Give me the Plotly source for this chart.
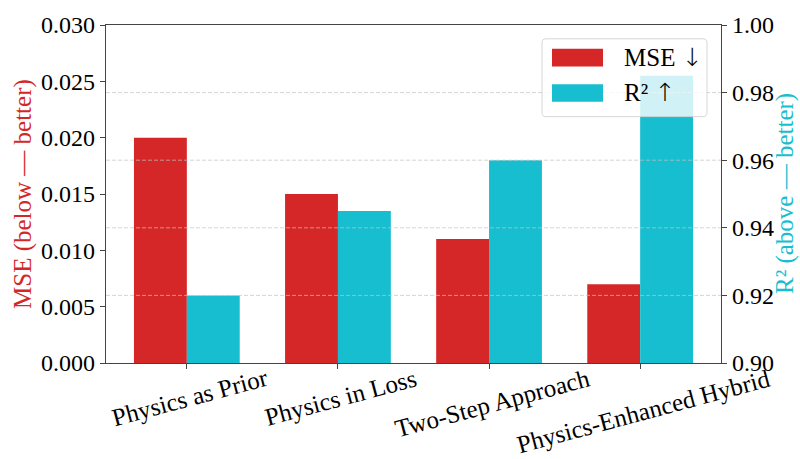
import plotly.graph_objects as go

# Benchmark of physics-informed modelling strategies
methods = ["Physics as Prior", "Physics in Loss", "Two-Step Approach", "Physics-Enhanced Hybrid"]
mse = [0.020, 0.015, 0.011, 0.007]
r2 = [0.920, 0.945, 0.960, 0.985]
series_names = ["MSE", "R²"]
series_arrows = ["↓", "↑"]
r2_grid = [0.92, 0.94, 0.96, 0.98]

RED = "#d62728"
CYAN = "#17becf"
SPINE = "#444444"
FONT = "Liberation Serif"

W, H = 800, 459
L, R, T, B = 106, 79, 20, 96
PW, PH = W - L - R, H - T - B


def px_x(px):
    return (px - L) / PW


def px_y(py):
    return (H - B - py) / PH


idx = list(range(len(methods)))
bar_w = 0.35

fig = go.Figure()
fig.add_trace(go.Bar(x=idx, y=mse, width=bar_w, offset=-bar_w, marker=dict(color=RED, line=dict(width=0)),
                     name=series_names[0], yaxis="y"))
fig.add_trace(go.Bar(x=idx, y=r2, width=bar_w, offset=0, marker=dict(color=CYAN, line=dict(width=0)),
                     name=series_names[1], yaxis="y2"))

axis_common = dict(showline=True, linecolor=SPINE, linewidth=1.2, ticks="outside", ticklen=5,
                   tickcolor=SPINE, tickwidth=1.2, showgrid=False, zeroline=False)

fig.update_layout(
    width=W, height=H,
    margin=dict(l=L, r=R, t=T, b=B),
    plot_bgcolor="white", paper_bgcolor="white",
    font=dict(family=FONT, size=24, color="black"),
    showlegend=False,
    barmode="overlay",
    xaxis=dict(range=[-0.535, len(methods) - 1 + 0.535], tickvals=idx, showticklabels=False,
               mirror=True, **axis_common),
    yaxis=dict(range=[0, 0.030], dtick=0.005, tickformat=".3f", **axis_common),
    yaxis2=dict(range=[0.90, 1.00], dtick=0.02, tickformat=".2f", overlaying="y", side="right",
                **axis_common),
)

shapes = []
# dashed grid for the R² axis, drawn over the bars
for g in r2_grid:
    shapes.append(dict(type="line", xref="paper", yref="y2", x0=0, x1=1, y0=g, y1=g, layer="above",
                       line=dict(color="rgba(195,195,195,0.7)", width=1, dash="4px,2px")))

# legend box
bx0, bx1, by0, by1, rad = 542, 707, 34, 113, 4


def corner_path(x0, x1, y0, y1, r):
    def P(x, y):
        return f"{px_x(x):.5f},{px_y(y):.5f}"
    return (f"M {P(x0 + r, y0)} L {P(x1 - r, y0)} Q {P(x1, y0)} {P(x1, y0 + r)} "
            f"L {P(x1, y1 - r)} Q {P(x1, y1)} {P(x1 - r, y1)} L {P(x0 + r, y1)} "
            f"Q {P(x0, y1)} {P(x0, y1 - r)} L {P(x0, y0 + r)} Q {P(x0, y0)} {P(x0 + r, y0)} Z")


shapes.append(dict(type="path", xref="paper", yref="paper", path=corner_path(bx0, bx1, by0, by1, rad),
                   fillcolor="rgba(255,255,255,0.8)", line=dict(color="rgba(204,204,204,0.8)", width=1),
                   layer="above"))
for (sy0, sy1), col in zip([(44, 62), (80, 98)], [RED, CYAN]):
    shapes.append(dict(type="rect", xref="paper", yref="paper", x0=px_x(552), x1=px_x(603),
                       y0=px_y(sy1), y1=px_y(sy0), fillcolor=col, line=dict(width=0), layer="above"))

annotations = []
for name, arrow, cy in zip(series_names, series_arrows, [53, 89]):
    label = (f"{name} <span style='font-family:DejaVu Sans;font-weight:200;font-size:25px'>"
             f"{arrow}</span>")
    annotations.append(dict(text=label, xref="paper", yref="paper", x=px_x(622), y=px_y(cy),
                            xanchor="left", yanchor="middle", showarrow=False,
                            font=dict(family=FONT, size=25, color="black")))

# rotated category labels centred under each group
for i, m in enumerate(methods):
    annotations.append(dict(text=m, xref="x", yref="paper", x=i + 0.02, y=px_y(363), xanchor="center",
                            yanchor="top", textangle=-15, showarrow=False, borderpad=0,
                            font=dict(family=FONT, size=25, color="black")))

# axis titles
annotations.append(dict(text="MSE (below — better)", xref="paper", yref="paper", x=px_x(23), y=0.5,
                        xanchor="center", yanchor="middle", textangle=-90, showarrow=False,
                        font=dict(family=FONT, size=25, color=RED)))
annotations.append(dict(text="R² (above — better)", xref="paper", yref="paper", x=px_x(785), y=0.5,
                        xanchor="center", yanchor="middle", textangle=-90, showarrow=False,
                        font=dict(family=FONT, size=25, color=CYAN)))

fig.update_layout(shapes=shapes, annotations=annotations)
fig.write_html("out.html")
